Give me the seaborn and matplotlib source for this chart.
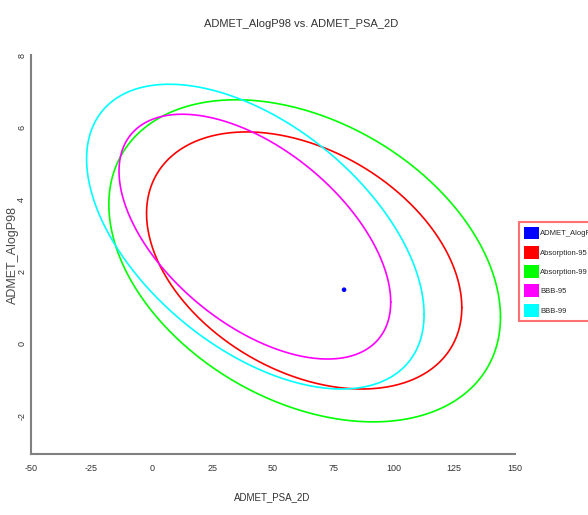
import numpy as np
import pandas as pd
import seaborn as sns
from matplotlib import pyplot as plt
import matplotlib.patches as mpatches

sns.set_style("white")
plt.rcParams['font.family'] = ['Liberation Sans', 'DejaVu Sans']

# 数据: 椭圆 (中心, 半轴, 相关系数)
ellipse_names = ['Absorption-95', 'Absorption-99', 'BBB-95', 'BBB-99']
ellipse_colors = ['#ff0000', '#00ff00', '#ff00ff', '#00ffff']
center_psa = [63.0, 63.2, 42.6, 42.8]
center_alogp = [2.31, 2.30, 2.97, 2.97]
half_psa = [65.2, 81.0, 56.2, 69.8]
half_alogp = [3.56, 4.46, 3.39, 4.22]
corr = [-0.366, -0.35, -0.535, -0.51]

# 化合物点
point_name = 'ADMET_AlogP98'
point_psa = [79.5]
point_alogp = [1.5]

x_ticks = [-50, -25, 0, 25, 50, 75, 100, 125, 150]
y_ticks = [-2, 0, 2, 4, 6, 8]

fig = plt.figure(figsize=(5.88, 5.15), dpi=100)
ax = fig.add_axes([31/588, 1-454/515, 483.5/588, 399/515])

t = np.linspace(0, 2*np.pi, 400)
for i, name in enumerate(ellipse_names):
    r = corr[i]
    ex = center_psa[i] + half_psa[i]*np.cos(t)
    ey = center_alogp[i] + half_alogp[i]*(r*np.cos(t) + np.sqrt(1-r*r)*np.sin(t))
    df = pd.DataFrame({'x': ex, 'y': ey})
    sns.lineplot(data=df, x='x', y='y', sort=False, estimator=None,
                 color=ellipse_colors[i], lw=1.2, ax=ax)

pts = pd.DataFrame({'x': point_psa, 'y': point_alogp})
sns.scatterplot(data=pts, x='x', y='y', color='#0000ff', s=11,
                edgecolor='none', ax=ax, zorder=5)

ax.set_xlim(-50, 150)
ax.set_ylim(-3.05, 8)
ax.set_xticks(x_ticks)
ax.set_yticks(y_ticks)
ax.set_xticklabels([str(v) for v in x_ticks])
ax.set_yticklabels([str(v) for v in y_ticks])

for s in ['top', 'right']:
    ax.spines[s].set_visible(False)
for s in ['left', 'bottom']:
    ax.spines[s].set_color('#808080')
    ax.spines[s].set_linewidth(1.5)

ax.tick_params(axis='both', direction='inout', length=6, width=1,
               color='#808080', labelsize=6.5, labelcolor='#333333')
ax.tick_params(axis='x', pad=4)
ax.tick_params(axis='y', pad=0.5, labelrotation=90)
for lab in ax.get_yticklabels():
    lab.set_va('center')

ax.set_xlabel('ADMET_PSA_2D', fontsize=7, color='#333333')
ax.xaxis.label.set_va('center')
ax.xaxis.set_label_coords(0.498, -0.108)
ax.set_ylabel('ADMET_AlogP98', fontsize=9, color='#4a4a4a')
ax.yaxis.label.set_va('center')
ax.yaxis.set_label_coords(-0.038, 0.5)

fig.text(301/588, 1-24/515, 'ADMET_AlogP98 vs. ADMET_PSA_2D',
         ha='center', va='center', fontsize=8, color='#333333')

# 图例 (右侧被图边裁切, 与原图一致)
handles = [mpatches.Patch(facecolor='#0000ff', edgecolor='none', label=point_name)]
for i, name in enumerate(ellipse_names):
    handles.append(mpatches.Patch(facecolor=ellipse_colors[i], edgecolor='none', label=name))
leg = fig.legend(handles=handles, loc='upper left',
                 bbox_to_anchor=(519/588, 1-222/515), bbox_transform=fig.transFigure,
                 fontsize=5.5, handlelength=2.0, handleheight=2.2,
                 labelspacing=0.85, handletextpad=0.15, borderpad=0.6,
                 borderaxespad=0, fancybox=False, framealpha=1)
leg.get_frame().set_edgecolor('#ff7070')
leg.get_frame().set_linewidth(1.5)

fig.savefig('out.png', dpi=100)
